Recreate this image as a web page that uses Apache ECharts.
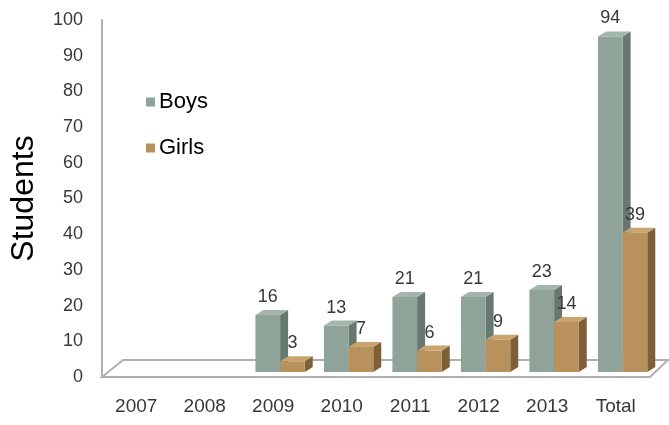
<!DOCTYPE html>
<html>
<head>
<meta charset="utf-8">
<script src="https://cdn.jsdelivr.net/npm/echarts@6/dist/echarts.min.js"></script>
<style>
  html, body { margin: 0; padding: 0; background: #fff; }
  #main { width: 669px; height: 425px; }
</style>
</head>
<body>
<div id="main"></div>
<script>
// data (2007/2008 have no bars)
const years = ['2007', '2008', '2009', '2010', '2011', '2012', '2013', 'Total'];
const boys = [null, null, 16, 13, 21, 21, 23, 94];
const girls = [null, null, 3, 7, 6, 9, 14, 39];
const yMin = 0, yMax = 100, yStep = 10;

const font = '"Liberation Sans", Arial, sans-serif';

const faces = {
  Boys: { front: '#8fa398', top: '#a4b6ac', side: '#66786f' },
  Girls: { front: '#b8915d', top: '#c9a46e', side: '#7d6038' }
};

// fake 3d bar: front rect + top and side faces, label above
function barRenderer(name, slot) {
  const c = faces[name];
  return function (params, api) {
    const v = api.value(1);
    if (v == null || isNaN(v)) return;
    const i = api.value(0);
    const bw = api.size([1, 0])[0];
    const base = api.coord([i, 0]);
    const top = api.coord([i, v]);
    const w = bw * 0.36;
    const x0 = base[0] - bw * 0.26 + slot * w;
    const x1 = x0 + w;
    const yb = base[1] - 5;
    const yt = top[1] - 5;
    const dx = 8, dy = -5;
    return {
      type: 'group',
      children: [
        { type: 'polygon', shape: { points: [[x1, yb], [x1 + dx, yb + dy], [x1 + dx, yt + dy], [x1, yt]] }, style: { fill: c.side } },
        { type: 'polygon', shape: { points: [[x0, yt], [x1, yt], [x1 + dx, yt + dy], [x0 + dx, yt + dy]] }, style: { fill: c.top } },
        { type: 'rect', shape: { x: x0, y: yt, width: w, height: yb - yt }, style: { fill: c.front } },
        { type: 'text', style: { text: String(v), x: x0 + w / 2, y: yt - 9, align: 'center', verticalAlign: 'bottom', font: '18px ' + font, fill: '#383838' } }
      ]
    };
  };
}

// the floor of the 3d plot, taken from the grid rect
function floorRenderer(params, api) {
  const cs = params.coordSys;
  const yb = cs.y + cs.height;
  const xl = cs.x, xr = cs.x + cs.width;
  return {
    type: 'polygon',
    shape: { points: [[xl, yb], [xr, yb], [xr + 18, yb - 17], [xl + 21, yb - 17]] },
    style: { fill: '#fff', stroke: '#b0b0b0', lineWidth: 2 }
  };
}

const chart = echarts.init(document.getElementById('main'));

const option = {
  backgroundColor: '#fff',
  animation: false,
  grid: { left: 96, right: 19, top: 20, bottom: 48 },
  legend: {
    data: ['Boys', 'Girls'],
    orient: 'vertical',
    left: 141,
    top: 86,
    icon: 'rect',
    itemWidth: 9,
    itemHeight: 9,
    itemGap: 24,
    textStyle: { fontSize: 22, color: '#000', fontFamily: font, padding: [0, 0, 0, -1] }
  },
  xAxis: {
    type: 'category',
    data: years,
    axisLine: { show: false },
    axisTick: { show: false },
    axisLabel: { margin: 20, fontSize: 19, color: '#383838', fontFamily: font }
  },
  yAxis: {
    type: 'value',
    min: yMin,
    max: yMax,
    interval: yStep,
    name: 'Students',
    nameLocation: 'middle',
    nameGap: 62,
    nameTextStyle: { fontSize: 32, color: '#000', fontFamily: font },
    splitLine: { show: false },
    axisTick: { show: false },
    axisLine: { show: true, lineStyle: { color: '#b0b0b0', width: 2 } },
    axisLabel: { margin: 19, fontSize: 18, color: '#383838', fontFamily: font }
  },
  series: [
    {
      name: 'floor',
      type: 'custom',
      silent: true,
      clip: false,
      renderItem: floorRenderer,
      data: [[0, 0]],
      z: 1
    },
    {
      name: 'Boys',
      type: 'custom',
      clip: false,
      itemStyle: { color: faces.Boys.front },
      renderItem: barRenderer('Boys', 0),
      data: boys.map((v, i) => [i, v]),
      z: 2
    },
    {
      name: 'Girls',
      type: 'custom',
      clip: false,
      itemStyle: { color: faces.Girls.front },
      renderItem: barRenderer('Girls', 1),
      data: girls.map((v, i) => [i, v]),
      z: 3
    }
  ]
};

chart.setOption(option);
</script>
</body>
</html>
